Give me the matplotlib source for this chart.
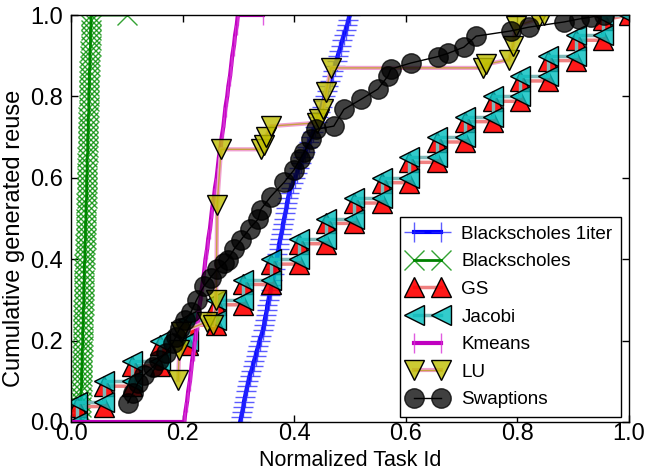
import matplotlib
matplotlib.use("Agg")
import matplotlib.pyplot as plt
from matplotlib.legend_handler import HandlerTuple

# ---------------- data ----------------
levels_81 = [0.0, 0.0125, 0.025, 0.0375, 0.05, 0.0625, 0.075, 0.0875, 0.1, 0.1125,
             0.125, 0.1375, 0.15, 0.1625, 0.175, 0.1875, 0.2, 0.2125, 0.225, 0.2375,
             0.25, 0.2625, 0.275, 0.2875, 0.3, 0.3125, 0.325, 0.3375, 0.35, 0.3625,
             0.375, 0.3875, 0.4, 0.4125, 0.425, 0.4375, 0.45, 0.4625, 0.475, 0.4875,
             0.5, 0.5125, 0.525, 0.5375, 0.55, 0.5625, 0.575, 0.5875, 0.6, 0.6125,
             0.625, 0.6375, 0.65, 0.6625, 0.675, 0.6875, 0.7, 0.7125, 0.725, 0.7375,
             0.75, 0.7625, 0.775, 0.7875, 0.8, 0.8125, 0.825, 0.8375, 0.85, 0.8625,
             0.875, 0.8875, 0.9, 0.9125, 0.925, 0.9375, 0.95, 0.9625, 0.975, 0.9875, 1.0]

bs1_x = [0.303, 0.305, 0.307, 0.309, 0.310, 0.312, 0.314, 0.316, 0.318, 0.320,
         0.323, 0.326, 0.328, 0.331, 0.333, 0.336, 0.338, 0.341, 0.344, 0.346,
         0.347, 0.349, 0.351, 0.352, 0.354, 0.356, 0.358, 0.359, 0.361, 0.363,
         0.365, 0.366, 0.368, 0.370, 0.372, 0.373, 0.375, 0.377, 0.379, 0.380,
         0.382, 0.384, 0.386, 0.387, 0.389, 0.391, 0.394, 0.398, 0.402, 0.405,
         0.409, 0.412, 0.416, 0.420, 0.423, 0.427, 0.431, 0.434, 0.437, 0.440,
         0.443, 0.446, 0.449, 0.452, 0.455, 0.458, 0.461, 0.464, 0.467, 0.470,
         0.473, 0.476, 0.478, 0.481, 0.484, 0.486, 0.489, 0.492, 0.495, 0.497, 0.500]
bs1_y = levels_81

bs_x = [0.017, 0.017, 0.018, 0.018, 0.018, 0.018, 0.018, 0.019, 0.019, 0.019,
        0.019, 0.020, 0.020, 0.020, 0.020, 0.021, 0.021, 0.021, 0.021, 0.022,
        0.022, 0.022, 0.022, 0.023, 0.023, 0.023, 0.023, 0.023, 0.024, 0.024,
        0.024, 0.024, 0.025, 0.025, 0.025, 0.025, 0.026, 0.026, 0.026, 0.026,
        0.027, 0.027, 0.027, 0.027, 0.028, 0.028, 0.028, 0.028, 0.028, 0.029,
        0.029, 0.029, 0.029, 0.030, 0.030, 0.030, 0.030, 0.031, 0.031, 0.031,
        0.031, 0.032, 0.032, 0.032, 0.032, 0.032, 0.033, 0.033, 0.033, 0.033,
        0.034, 0.034, 0.034, 0.034, 0.035, 0.035, 0.035, 0.035, 0.036, 0.036, 0.036,
        0.100]
bs_y = levels_81 + [1.0]

jac_x = [0.010, 0.010, 0.060, 0.060, 0.109, 0.109, 0.159, 0.159, 0.209, 0.209,
         0.259, 0.259, 0.308, 0.308, 0.358, 0.358, 0.408, 0.408, 0.457, 0.457,
         0.507, 0.507, 0.557, 0.557, 0.606, 0.606, 0.656, 0.656, 0.706, 0.706,
         0.756, 0.756, 0.805, 0.805, 0.855, 0.855, 0.905, 0.905, 0.954, 0.954, 1.0]
jac_y = [0.00, 0.05, 0.05, 0.10, 0.10, 0.15, 0.15, 0.20, 0.20, 0.25,
         0.25, 0.30, 0.30, 0.35, 0.35, 0.40, 0.40, 0.45, 0.45, 0.50,
         0.50, 0.55, 0.55, 0.60, 0.60, 0.65, 0.65, 0.70, 0.70, 0.75,
         0.75, 0.80, 0.80, 0.85, 0.85, 0.90, 0.90, 0.95, 0.95, 1.00, 1.00]
gs_x = jac_x
gs_y = [0.0, 0.038, 0.038, 0.088, 0.088, 0.138, 0.138, 0.188, 0.188, 0.238,
        0.238, 0.288, 0.288, 0.338, 0.338, 0.388, 0.388, 0.438, 0.438, 0.488,
        0.488, 0.538, 0.538, 0.588, 0.588, 0.638, 0.638, 0.688, 0.688, 0.738,
        0.738, 0.788, 0.788, 0.838, 0.838, 0.888, 0.888, 0.938, 0.938, 0.988, 1.0]

km_x = [0.0, 0.203, 0.205, 0.208, 0.210, 0.213, 0.215, 0.217, 0.220, 0.222, 0.225,
        0.227, 0.229, 0.232, 0.234, 0.237, 0.239, 0.241, 0.244, 0.246, 0.249,
        0.251, 0.253, 0.256, 0.258, 0.261, 0.263, 0.265, 0.268, 0.270, 0.273,
        0.275, 0.277, 0.280, 0.282, 0.285, 0.287, 0.289, 0.292, 0.294, 0.297,
        0.299, 0.344]
km_y = [0.0, 0.0, 0.025, 0.05, 0.075, 0.1, 0.125, 0.15, 0.175, 0.2, 0.225,
        0.25, 0.275, 0.3, 0.325, 0.35, 0.375, 0.4, 0.425, 0.45, 0.475,
        0.5, 0.525, 0.55, 0.575, 0.6, 0.625, 0.65, 0.675, 0.7, 0.725,
        0.75, 0.775, 0.8, 0.825, 0.85, 0.875, 0.9, 0.925, 0.95, 0.975,
        1.0, 1.0]

lu_x = [0.192, 0.194, 0.197, 0.243, 0.255, 0.260, 0.262, 0.269, 0.340, 0.346,
        0.349, 0.358, 0.440, 0.445, 0.452, 0.457, 0.466, 0.738, 0.744, 0.785,
        0.792, 0.797, 0.837, 0.848]
lu_y = [0.103, 0.177, 0.220, 0.246, 0.238, 0.300, 0.534, 0.670, 0.670, 0.680,
        0.700, 0.727, 0.735, 0.745, 0.770, 0.810, 0.870, 0.870, 0.879, 0.890,
        0.924, 0.973, 0.990, 1.0]

sw_x = [0.102, 0.111, 0.120, 0.131, 0.147, 0.158, 0.170, 0.183, 0.188, 0.195,
        0.205, 0.215, 0.225, 0.238, 0.250, 0.262, 0.275, 0.281, 0.292, 0.305,
        0.320, 0.335, 0.340, 0.358, 0.382, 0.400, 0.410, 0.418, 0.430, 0.439,
        0.471, 0.489, 0.520, 0.550, 0.568, 0.573, 0.609, 0.658, 0.676, 0.704,
        0.726, 0.789, 0.820, 0.884, 0.910, 0.932, 0.955]
sw_y = [0.047, 0.071, 0.096, 0.116, 0.135, 0.153, 0.170, 0.195, 0.210, 0.230,
        0.250, 0.270, 0.300, 0.333, 0.355, 0.375, 0.390, 0.399, 0.424, 0.448,
        0.475, 0.498, 0.522, 0.554, 0.589, 0.620, 0.645, 0.663, 0.695, 0.719,
        0.727, 0.768, 0.793, 0.818, 0.850, 0.867, 0.882, 0.898, 0.906, 0.921,
        0.948, 0.961, 0.970, 0.983, 0.990, 0.995, 1.000]

labels = ["Blackscholes 1iter", "Blackscholes", "GS", "Jacobi", "Kmeans", "LU", "Swaptions"]
ticks = [0.0, 0.2, 0.4, 0.6, 0.8, 1.0]

# ---------------- figure ----------------
plt.rcParams['font.family'] = ['Liberation Sans', 'DejaVu Sans']
fig = plt.figure(figsize=(6.45, 4.71), dpi=100)
ax = fig.add_axes([71/645, 49/471, 558/645, 407/471])

MS = 14
h_bs1, = ax.plot(bs1_x, bs1_y, color='#0000ff', lw=3, marker='+', ms=15, mew=1,
                 mec=(0.15, 0.15, 1.0, 0.75), label=labels[0])
h_bs, = ax.plot(bs_x, bs_y, color='#008000', lw=2, marker='x', ms=15, mew=1,
                mec=(0.0, 0.55, 0.0, 0.8), label=labels[1])
h_gs, = ax.plot(gs_x, gs_y, color='#f08080', lw=2.5, marker='^', ms=MS,
                mfc=(1, 0, 0, 0.9), mec='black', mew=1, label=labels[2])
h_jac, = ax.plot(jac_x, jac_y, color='#7fb8b8', lw=2.5, marker='<', ms=MS,
                 mfc=(0, 0.75, 0.75, 0.8), mec='black', mew=1, label=labels[3])
h_km, = ax.plot(km_x, km_y, color='#c000c0', lw=3, marker='|', ms=15, mew=1,
                mec=(0.85, 0.2, 0.85, 0.8), label=labels[4])
lu_under, = ax.plot(lu_x, lu_y, color='#f0a0d0', lw=3)
h_lu, = ax.plot(lu_x, lu_y, color='#c8a040', lw=1, marker='v', ms=MS,
                mfc=(0.75, 0.75, 0, 0.8), mec='black', mew=1, label=labels[5])
h_sw, = ax.plot(sw_x, sw_y, color='black', lw=1, marker='o', ms=MS,
                mfc=(0, 0, 0, 0.75), mec=(0, 0, 0, 0.75), mew=1, label=labels[6])

ax.set_xlim(0, 1)
ax.set_ylim(0, 1)
ax.set_xticks(ticks)
ax.set_yticks(ticks)
ax.tick_params(direction='in', top=True, right=True, length=5, width=1,
               labelsize=17)
ax.tick_params(axis='y', pad=6)
ax.tick_params(axis='x', pad=1)
for s in ax.spines.values():
    s.set_linewidth(1)
ax.set_xlabel('Normalized Task Id', fontsize=15.5)
ax.xaxis.set_label_coords(0.5, (422 - 450.5) / 407)
ax.set_ylabel('Cumulative generated reuse', fontsize=17)
ax.yaxis.set_label_coords(-0.083, 0.452)

handles = [h_bs1, h_bs, h_gs, h_jac, h_km, (lu_under, h_lu), h_sw]
leg = ax.legend(handles, labels, loc='lower right',
                bbox_to_anchor=((621 - 71) / 558, (422 - 417) / 407),
                borderaxespad=0, numpoints=2, handlelength=2.0, handletextpad=0.8,
                labelspacing=0.55, fontsize=13.6, fancybox=False, framealpha=1,
                edgecolor='black', borderpad=0.45,
                handler_map={tuple: HandlerTuple(ndivide=1, pad=0)})
leg.get_frame().set_linewidth(1)

fig.savefig('out.png', dpi=100, facecolor='white')
